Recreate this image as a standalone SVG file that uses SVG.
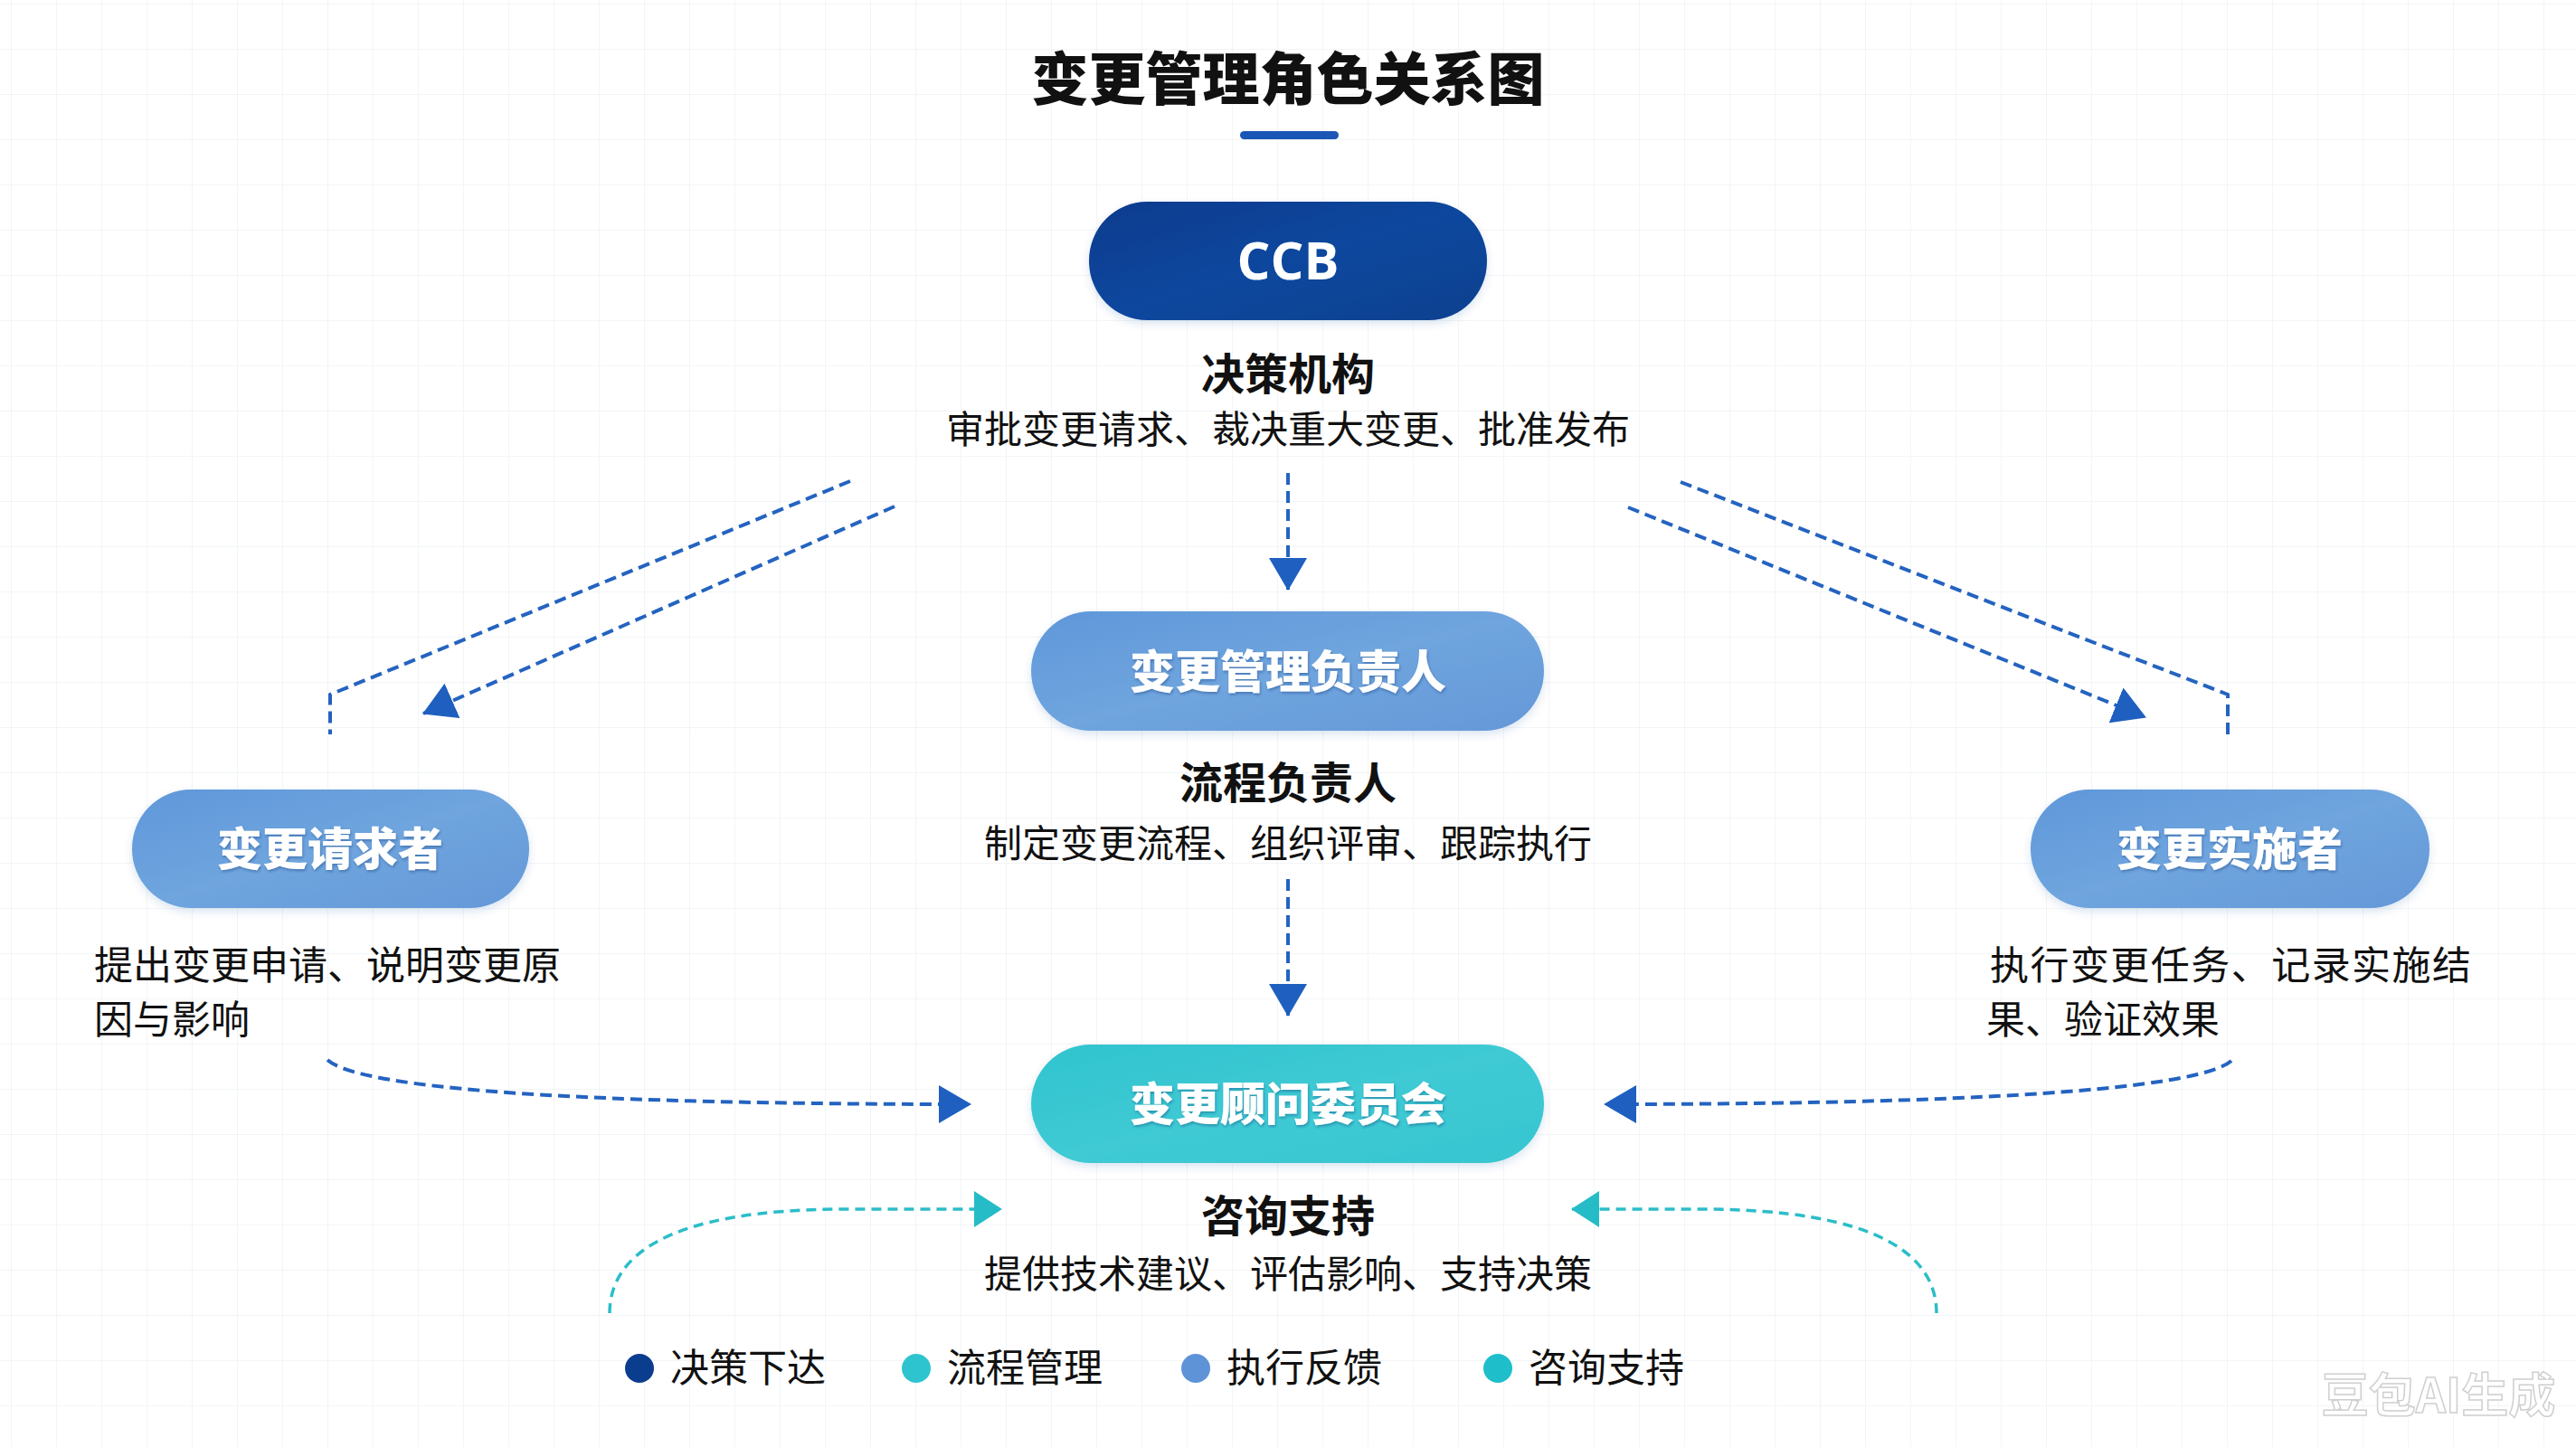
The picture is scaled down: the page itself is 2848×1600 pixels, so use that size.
<svg xmlns="http://www.w3.org/2000/svg" width="2848" height="1600" viewBox="0 0 2848 1600">
  <style>
    .cjk { font-family: "Noto Sans CJK SC", "Noto Sans", "Liberation Sans", sans-serif; }
    .title { font-size: 63px; font-weight: 900; fill: #111; }
    .pilltxt { font-size: 50px; font-weight: 900; fill: #fff; }
    .sub { font-size: 48px; font-weight: 700; fill: #111; }
    .desc { font-size: 43px; font-weight: 400; fill: #111; }
    .cdesc { font-size: 42px; font-weight: 400; fill: #111; }
    .legend { font-size: 43px; font-weight: 400; fill: #111; }
    .blue { fill: none; stroke: #2463c0; stroke-width: 4; stroke-dasharray: 13 7; }
    .teal { fill: none; stroke: #2bbdc9; stroke-width: 3.5; stroke-dasharray: 11 7; }
  </style>
  <defs>
    <pattern id="grid" x="12" y="4" width="50" height="50" patternUnits="userSpaceOnUse">
      <path d="M0,0 H50 M0,0 V50" fill="none" stroke="#eef2f5" stroke-width="1.5"/>
    </pattern>
    <linearGradient id="gDark" x1="0" y1="0" x2="1" y2="1">
      <stop offset="0" stop-color="#0a3c8e"/>
      <stop offset="0.5" stop-color="#0e479e"/>
      <stop offset="1" stop-color="#0b418f"/>
    </linearGradient>
    <linearGradient id="gMid" x1="0" y1="0" x2="1" y2="1">
      <stop offset="0" stop-color="#5f97da"/>
      <stop offset="0.5" stop-color="#6fa5de"/>
      <stop offset="1" stop-color="#6498d8"/>
    </linearGradient>
    <linearGradient id="gTeal" x1="0" y1="0" x2="1" y2="1">
      <stop offset="0" stop-color="#2fc4cf"/>
      <stop offset="0.5" stop-color="#3fcad4"/>
      <stop offset="1" stop-color="#36c6d1"/>
    </linearGradient>
    <filter id="sh" x="-10%" y="-20%" width="120%" height="150%">
      <feDropShadow dx="0" dy="4" stdDeviation="5" flood-color="#1b4f9c" flood-opacity="0.15"/>
    </filter>
    <filter id="tsh" x="-10%" y="-20%" width="120%" height="150%">
      <feDropShadow dx="1" dy="2" stdDeviation="1.5" flood-color="#0b2f6a" flood-opacity="0.35"/>
    </filter>
    <marker id="ab" markerUnits="userSpaceOnUse" markerWidth="36" markerHeight="42" refX="35" refY="21" orient="auto" viewBox="0 0 36 42">
      <path d="M0,0 L36,21 L0,42 Z" fill="#1e5fbf"/>
    </marker>
    <marker id="at" markerUnits="userSpaceOnUse" markerWidth="31" markerHeight="40" refX="30" refY="20" orient="auto" viewBox="0 0 31 40">
      <path d="M0,0 L31,20 L0,40 Z" fill="#25bcc8"/>
    </marker>
  </defs>

  <rect width="2848" height="1600" fill="#ffffff"/>
  <rect width="2848" height="1600" fill="url(#grid)"/>

  <g id="title">
    <text class="cjk title" x="1424" y="110" text-anchor="middle">变更管理角色关系图</text>
    <rect x="1371" y="145" width="109" height="9" rx="4.5" fill="#1a56b5"/>
  </g>

  <g id="connectors">
    <path class="blue" d="M1424,523 V652" marker-end="url(#ab)"/>
    <path class="blue" d="M1424,972 V1123" marker-end="url(#ab)"/>
    <path class="blue" d="M940,532 L365,768 V812"/>
    <path class="blue" d="M989,560 L468,789" marker-end="url(#ab)"/>
    <path class="blue" d="M1858,533 L2463,768 V815"/>
    <path class="blue" d="M1800,561 L2372,793" marker-end="url(#ab)"/>
    <path class="blue" d="M362,1172 C400,1205 650,1221 1073,1221" marker-end="url(#ab)"/>
    <path class="blue" d="M2467,1173 C2429,1205 2179,1221 1774,1221" marker-end="url(#ab)"/>
    <path class="teal" d="M674,1452 C674,1390 735,1337 935,1337 L1107,1337" marker-end="url(#at)"/>
    <path class="teal" d="M2141,1452 C2141,1390 2080,1337 1880,1337 L1738,1337" marker-end="url(#at)"/>
  </g>

  <g id="ccb">
    <rect x="1204" y="223" width="440" height="131" rx="64" ry="65" fill="url(#gDark)" filter="url(#sh)"/>
    <text x="1424" y="309" text-anchor="middle" font-family="Open Sans, Noto Sans, Liberation Sans, sans-serif" font-size="58" font-weight="700" fill="#fff">CCB</text>
    <text class="cjk sub" x="1424" y="431" text-anchor="middle">决策机构</text>
    <text class="cjk cdesc" x="1424" y="490" text-anchor="middle">审批变更请求、裁决重大变更、批准发布</text>
  </g>

  <g id="manager">
    <rect x="1140" y="676" width="567" height="132" rx="66" fill="url(#gMid)" filter="url(#sh)"/>
    <text class="cjk pilltxt" x="1424" y="761" text-anchor="middle" filter="url(#tsh)">变更管理负责人</text>
    <text class="cjk sub" x="1424" y="883" text-anchor="middle">流程负责人</text>
    <text class="cjk cdesc" x="1424" y="948" text-anchor="middle">制定变更流程、组织评审、跟踪执行</text>
  </g>

  <g id="requester">
    <rect x="146" y="873" width="439" height="131" rx="65" fill="url(#gMid)" filter="url(#sh)"/>
    <text class="cjk pilltxt" x="365" y="957" text-anchor="middle" filter="url(#tsh)">变更请求者</text>
    <text class="cjk desc" x="104" y="1083">提出变更申请、说明变更原</text>
    <text class="cjk desc" x="104" y="1143">因与影响</text>
  </g>

  <g id="implementer">
    <rect x="2245" y="873" width="441" height="131" rx="65" fill="url(#gMid)" filter="url(#sh)"/>
    <text class="cjk pilltxt" x="2465" y="957" text-anchor="middle" filter="url(#tsh)">变更实施者</text>
    <text class="cjk desc" x="2200" y="1083" textLength="532" lengthAdjust="spacing">执行变更任务、记录实施结</text>
    <text class="cjk desc" x="2196" y="1143">果、验证效果</text>
  </g>

  <g id="cab">
    <rect x="1140" y="1155" width="567" height="131" rx="66" fill="url(#gTeal)" filter="url(#sh)"/>
    <text class="cjk pilltxt" x="1424" y="1239" text-anchor="middle" filter="url(#tsh)">变更顾问委员会</text>
    <text class="cjk sub" x="1424" y="1362" text-anchor="middle">咨询支持</text>
    <text class="cjk cdesc" x="1424" y="1424" text-anchor="middle">提供技术建议、评估影响、支持决策</text>
  </g>

  <g id="legend">
    <circle cx="707" cy="1513" r="16" fill="#0b3d8f"/>
    <text class="cjk legend" x="741" y="1528">决策下达</text>
    <circle cx="1013" cy="1513" r="16" fill="#2ec4cf"/>
    <text class="cjk legend" x="1047" y="1528">流程管理</text>
    <circle cx="1322" cy="1513" r="16" fill="#5f93d8"/>
    <text class="cjk legend" x="1356" y="1528">执行反馈</text>
    <circle cx="1656" cy="1513" r="16" fill="#1ebfcb"/>
    <text class="cjk legend" x="1690" y="1528">咨询支持</text>
  </g>

  <g id="watermark">
    <text class="cjk" x="2696" y="1562" text-anchor="middle" font-size="52" font-weight="700" fill="#ffffff" stroke="#cfcfcf" stroke-width="1.5">豆包AI生成</text>
  </g>
</svg>
